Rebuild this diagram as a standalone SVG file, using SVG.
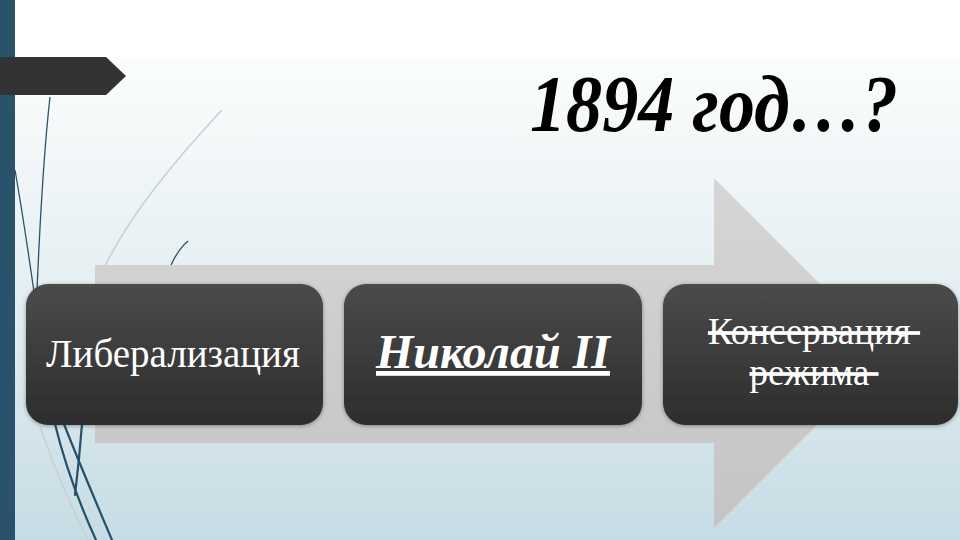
<svg xmlns="http://www.w3.org/2000/svg" width="960" height="540" viewBox="0 0 960 540">
  <defs>
    <linearGradient id="bg" x1="0" y1="0" x2="0" y2="1">
      <stop offset="0" stop-color="#fbfdfd"/>
      <stop offset="0.5" stop-color="#e4eef2"/>
      <stop offset="1" stop-color="#c6dce4"/>
    </linearGradient>
    <linearGradient id="arrowFill" x1="0" y1="0" x2="0" y2="1">
      <stop offset="0" stop-color="#d6d6d6"/>
      <stop offset="1" stop-color="#c4c4c4"/>
    </linearGradient>
    <linearGradient id="boxFill" x1="0" y1="0" x2="0" y2="1">
      <stop offset="0" stop-color="#4b4b4b"/>
      <stop offset="1" stop-color="#2d2d2d"/>
    </linearGradient>
    <filter id="glow" x="-5%" y="-10%" width="110%" height="120%">
      <feGaussianBlur in="SourceAlpha" stdDeviation="2"/>
      <feOffset dx="0" dy="1"/>
      <feComponentTransfer><feFuncA type="linear" slope="0.35"/></feComponentTransfer>
      <feMerge><feMergeNode/><feMergeNode in="SourceGraphic"/></feMerge>
    </filter>
  </defs>
  <style>
    .box { fill: url(#boxFill); filter: url(#glow); }
    .lbl { fill: #ffffff; font-family: "Liberation Serif", "Times New Roman", serif; text-anchor: middle; }
    .deco { fill: none; stroke: #26506a; stroke-width: 2.2; stroke-linecap: round; }
    .decoThin { fill: none; stroke: #2b5368; stroke-width: 1.3; }
    .decoLight { fill: none; stroke: #c9d0d3; stroke-width: 1.6; }
  </style>

  <!-- background -->
  <rect x="0" y="0" width="960" height="540" fill="#ffffff"/>
  <rect x="0" y="58" width="960" height="482" fill="url(#bg)"/>

  <!-- left accent bar -->
  <rect x="0" y="0" width="15" height="540" fill="#28536a"/>

  <!-- decorative curves -->
  <g id="decor">
    <path class="decoLight" d="M222 110 C175 160 130 215 105 266"/>
    <path class="decoThin" d="M50 97 C44 150 40 220 37 290"/>
    <path class="decoThin" d="M15 170 C22 210 28 250 34 292"/>
    <path class="decoThin" d="M171 265 C176 254 181 247 188 241"/>
    <path class="decoLight" d="M40 426 C55 470 70 505 88 540"/>
    <path class="deco" d="M55 424 C65 465 80 505 96 540"/>
    <path class="deco" d="M64 424 C78 460 95 500 112 540"/>
    <path class="deco" d="M82 424 C80 450 78 470 75 495"/>
  </g>

  <!-- title tab -->
  <polygon points="0,57 106,57 126,76 106,95 0,95" fill="#333333"/>

  <!-- title -->
  <text x="530" y="131" font-family="'Liberation Serif', 'Times New Roman', serif" font-size="80" font-weight="bold" font-style="italic" fill="#000000" textLength="368" lengthAdjust="spacingAndGlyphs">1894 год…?</text>

  <!-- big process arrow -->
  <g id="process-arrow">
    <polygon points="95,265 714,265 714,178 889,353 714,528 714,443 95,443" fill="url(#arrowFill)"/>
  </g>

  <g id="connectors"></g>

  <!-- nodes -->
  <g id="node-liberalization">
    <rect class="box" x="26" y="284" width="297" height="141" rx="22"/>
    <text class="lbl" x="173" y="367" font-size="39">Либерализация</text>
  </g>

  <g id="node-nicholas">
    <rect class="box" x="344" y="284" width="298" height="141" rx="22"/>
    <text class="lbl" x="493" y="368" font-size="48" font-weight="bold" font-style="italic" text-decoration="underline">Николай II</text>
  </g>

  <g id="node-conservation">
    <rect class="box" x="663" y="284" width="295" height="141" rx="22"/>
    <text class="lbl" x="814" y="344" font-size="37" text-decoration="line-through" xml:space="preserve">Консервация </text>
    <text class="lbl" x="814" y="385" font-size="37" text-decoration="line-through" xml:space="preserve">режима </text>
  </g>
</svg>
